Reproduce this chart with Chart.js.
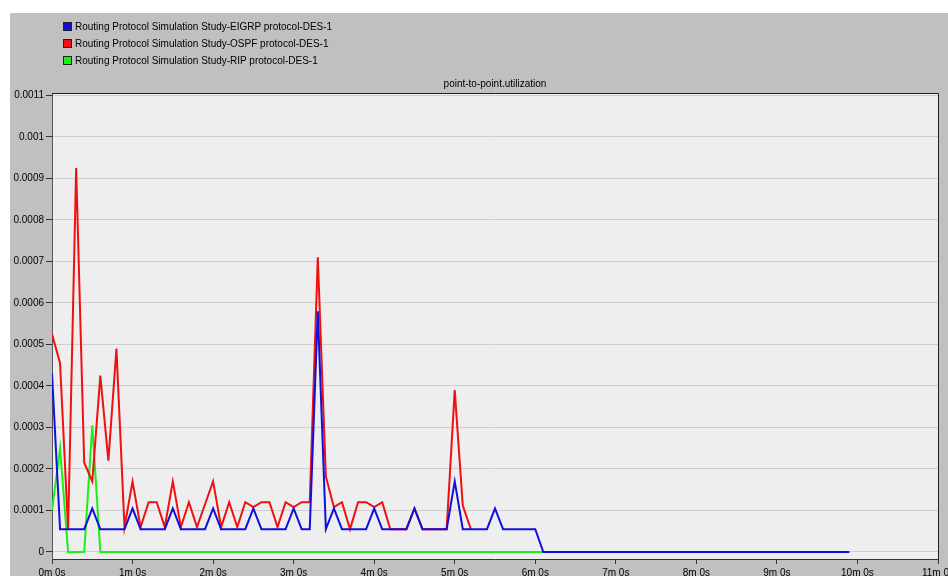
<!DOCTYPE html>
<html><head><meta charset="utf-8">
<script src="https://cdn.jsdelivr.net/npm/chart.js@4.4.1/dist/chart.umd.min.js"></script>
<style>
html,body{margin:0;padding:0;background:#fff;width:948px;height:576px;overflow:hidden;}
#wrap{position:absolute;left:10px;top:13px;width:938px;height:563px;background:#c0c0c0;}
#legend{position:absolute;left:53px;top:5px;font:10px 'Liberation Sans',Arial,sans-serif;color:#000;}
.li{height:17px;white-space:nowrap;display:flex;align-items:center;}
.sw{width:7px;height:7px;border:1px solid #222;margin-right:3px;display:inline-block;}
canvas{position:absolute;left:0;top:0;}
</style></head>
<body>
<div id="wrap"><canvas id="c" width="938" height="563"></canvas><div id="legend"></div></div>
<script>
// sample interval: 6 s (0.1 min)
const sampleMinutes = 0.1;
const seriesNames = [
  'Routing Protocol Simulation Study-EIGRP protocol-DES-1',
  'Routing Protocol Simulation Study-OSPF protocol-DES-1',
  'Routing Protocol Simulation Study-RIP protocol-DES-1'
];
const seriesColors = ['#1010dc', '#f01010', '#18f018'];
const eigrp = [
  4.3e-4, 5.5e-5, 5.5e-5, 5.5e-5, 5.5e-5, 1.05e-4, 5.5e-5, 5.5e-5, 5.5e-5, 5.5e-5,
  1.05e-4, 5.5e-5, 5.5e-5, 5.5e-5, 5.5e-5, 1.05e-4, 5.5e-5, 5.5e-5, 5.5e-5, 5.5e-5,
  1.05e-4, 5.5e-5, 5.5e-5, 5.5e-5, 5.5e-5, 1.05e-4, 5.5e-5, 5.5e-5, 5.5e-5, 5.5e-5,
  1.05e-4, 5.5e-5, 5.5e-5, 5.8e-4, 5.5e-5, 1.05e-4, 5.5e-5, 5.5e-5, 5.5e-5, 5.5e-5,
  1.05e-4, 5.5e-5, 5.5e-5, 5.5e-5, 5.5e-5, 1.05e-4, 5.5e-5, 5.5e-5, 5.5e-5, 5.5e-5,
  1.7e-4, 5.5e-5, 5.5e-5, 5.5e-5, 5.5e-5, 1.05e-4, 5.5e-5, 5.5e-5, 5.5e-5, 5.5e-5,
  5.5e-5, 0, 0, 0, 0, 0, 0, 0, 0, 0,
  0, 0, 0, 0, 0, 0, 0, 0, 0, 0,
  0, 0, 0, 0, 0, 0, 0, 0, 0, 0,
  0, 0, 0, 0, 0, 0, 0, 0, 0, 0
];
const ospf = [
  5.25e-4, 4.55e-4, 5.5e-5, 9.25e-4, 2.15e-4, 1.7e-4, 4.25e-4, 2.2e-4, 4.9e-4, 6e-5,
  1.7e-4, 6e-5, 1.2e-4, 1.2e-4, 6e-5, 1.7e-4, 6e-5, 1.2e-4, 6e-5, 1.15e-4,
  1.7e-4, 6e-5, 1.2e-4, 6e-5, 1.2e-4, 1.08e-4, 1.2e-4, 1.2e-4, 6e-5, 1.2e-4,
  1.08e-4, 1.2e-4, 1.2e-4, 7.1e-4, 1.82e-4, 1.08e-4, 1.2e-4, 5.5e-5, 1.2e-4, 1.2e-4,
  1.08e-4, 1.2e-4, 5.5e-5, 5.5e-5, 5.5e-5, 1.05e-4, 5.5e-5, 5.5e-5, 5.5e-5, 5.5e-5,
  3.9e-4, 1.12e-4, 5.5e-5
];
const rip = [
  1.0e-4, 2.5e-4, 0, 0, 0, 3.05e-4, 0, 0, 0, 0,
  0, 0, 0, 0, 0, 0, 0, 0, 0, 0,
  0, 0, 0, 0, 0, 0, 0, 0, 0, 0,
  0, 0, 0, 0, 0, 0, 0, 0, 0, 0,
  0, 0, 0, 0, 0, 0, 0, 0, 0, 0,
  0, 0, 0, 0, 0, 0, 0, 0, 0, 0,
  0, 0
];
const xTicks = [0, 1, 2, 3, 4, 5, 6, 7, 8, 9, 10, 11];
const xTickLabels = ['0m 0s', '1m 0s', '2m 0s', '3m 0s', '4m 0s', '5m 0s', '6m 0s', '7m 0s', '8m 0s', '9m 0s', '10m 0s', '11m 0s'];
const yTicks = [0, 0.0001, 0.0002, 0.0003, 0.0004, 0.0005, 0.0006, 0.0007, 0.0008, 0.0009, 0.001, 0.0011];
const yTickLabels = ['0', '0.0001', '0.0002', '0.0003', '0.0004', '0.0005', '0.0006', '0.0007', '0.0008', '0.0009', '0.001', '0.0011'];
const chartTitle = 'point-to-point.utilization';

const FONT = "'Liberation Sans', Arial, sans-serif";
const toPoints = arr => arr.map((v, i) => ({x: i * sampleMinutes, y: v}));

const plotFrame = {
  id: 'plotFrame',
  beforeDraw(chart) {
    const {ctx, chartArea: a} = chart;
    ctx.save();
    ctx.fillStyle = '#eeeeee';
    ctx.fillRect(a.left, a.top, a.right - a.left, a.bottom - a.top);
    ctx.restore();
  },
  afterDraw(chart) {
    const {ctx, chartArea: a} = chart;
    ctx.save();
    ctx.strokeStyle = '#222';
    ctx.lineWidth = 1;
    ctx.beginPath();
    ctx.moveTo(a.left, a.top + 0.5);
    ctx.lineTo(a.right + 0.5, a.top + 0.5);
    ctx.lineTo(a.right + 0.5, a.bottom);
    ctx.stroke();
    ctx.restore();
  }
};

const chart = new Chart(document.getElementById('c'), {
  type: 'line',
  data: {
    datasets: [
      {label: seriesNames[0], data: toPoints(eigrp), borderColor: seriesColors[0], backgroundColor: seriesColors[0]},
      {label: seriesNames[1], data: toPoints(ospf), borderColor: seriesColors[1], backgroundColor: seriesColors[1]},
      {label: seriesNames[2], data: toPoints(rip), borderColor: seriesColors[2], backgroundColor: seriesColors[2]}
    ]
  },
  options: {
    responsive: false,
    animation: false,
    devicePixelRatio: 1,
    layout: {padding: {top: 65, right: 10, left: 0, bottom: 0}},
    elements: {
      point: {radius: 0},
      line: {borderWidth: 2, tension: 0, fill: false, borderJoinStyle: 'miter'}
    },
    plugins: {
      legend: {display: false},
      tooltip: {enabled: false},
      title: {
        display: true, text: chartTitle, fullSize: false, color: '#000',
        font: {family: FONT, size: 10, weight: 'normal'},
        padding: {top: 0, bottom: 3}
      }
    },
    scales: {
      x: {
        type: 'linear', min: 0, max: 11,
        afterBuildTicks: s => { s.ticks = xTicks.map(v => ({value: v})); },
        afterFit: s => { s.height = 17; s.paddingLeft = 0; s.paddingRight = 0; },
        ticks: {callback: (v, i) => xTickLabels[i], color: '#000', font: {family: FONT, size: 10}, padding: 3, maxRotation: 0, autoSkip: false},
        grid: {drawOnChartArea: false, drawTicks: true, tickLength: 5, tickColor: '#333', color: '#333'},
        border: {color: '#333', width: 1}
      },
      y: {
        type: 'linear', min: -0.0000169, max: 0.0011058,
        afterBuildTicks: s => { s.ticks = yTicks.map(v => ({value: v})); },
        afterFit: s => { s.width = 42; s.paddingTop = 0; s.paddingBottom = 0; },
        ticks: {callback: (v, i) => yTickLabels[i], color: '#000', font: {family: FONT, size: 10}, padding: 2, autoSkip: false},
        grid: {color: '#cfcfcf', tickColor: '#333', tickLength: 6, lineWidth: 1},
        border: {color: '#555', width: 1}
      }
    }
  },
  plugins: [plotFrame]
});

// HTML legend built from the chart's datasets
const legendEl = document.getElementById('legend');
chart.data.datasets.forEach(ds => {
  const row = document.createElement('div');
  row.className = 'li';
  const sw = document.createElement('span');
  sw.className = 'sw';
  sw.style.background = ds.borderColor;
  const tx = document.createElement('span');
  tx.textContent = ds.label;
  row.appendChild(sw);
  row.appendChild(tx);
  legendEl.appendChild(row);
});
</script>
</body></html>
